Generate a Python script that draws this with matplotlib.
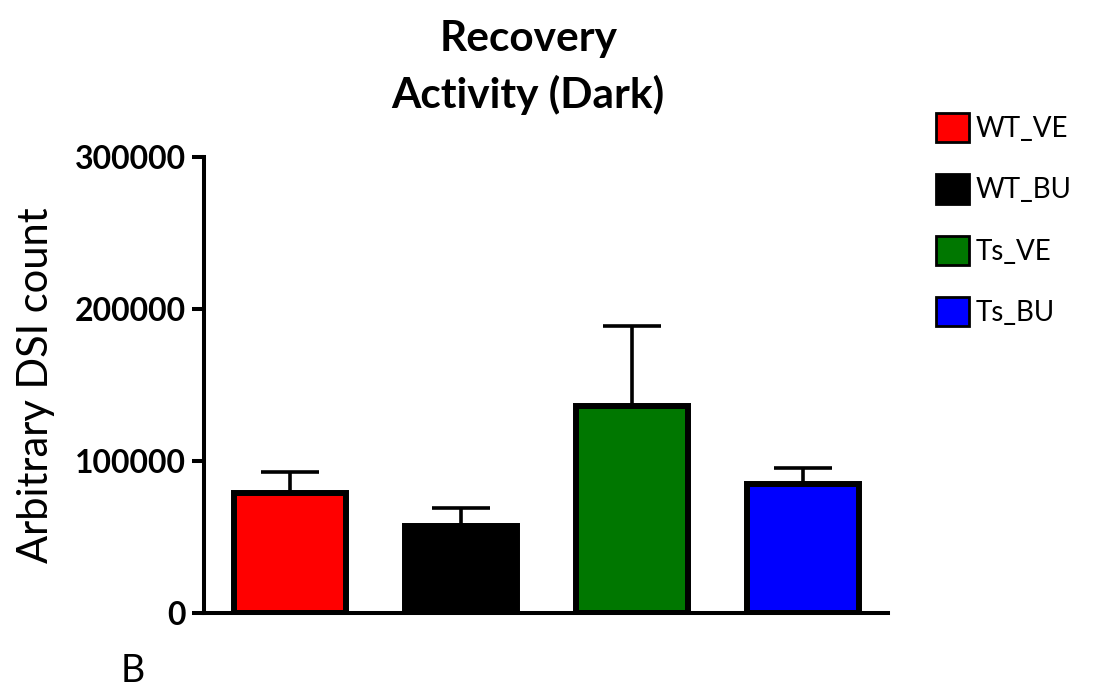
import matplotlib.pyplot as plt
from matplotlib.patches import Patch

# data
groups = ["WT_VE", "WT_BU", "Ts_VE", "Ts_BU"]
means = [78500, 57000, 136000, 84500]
sem = [14100, 12000, 52800, 10900]
colors = ["#ff0000", "#000000", "#007700", "#0000ff"]
yticks = [0, 100000, 200000, 300000]

plt.rcParams['font.family'] = ['Lato', 'DejaVu Sans']

fig = plt.figure(figsize=(10.94, 6.88), dpi=100)
ax = fig.add_axes([0.1865, 0.1094, 0.6252, 0.6628])

x = list(range(len(groups)))
ax.bar(x, means, width=0.655, color=colors, edgecolor='black', linewidth=4.3, zorder=2)
ax.errorbar(x, means, yerr=[[0] * len(sem), sem], fmt='none', ecolor='black',
            elinewidth=2.6, capsize=21, capthick=2.6, zorder=1)

ax.set_xlim(-0.5, 3.5)
ax.set_ylim(0, 300000)
ax.set_yticks(yticks)
ax.set_yticklabels([str(t) for t in yticks], fontsize=23, fontweight='bold')
ax.set_xticks([])
ax.tick_params(axis='y', length=9, width=2.9, direction='out', pad=4)

for s in ['top', 'right']:
    ax.spines[s].set_visible(False)
for s in ['left', 'bottom']:
    ax.spines[s].set_linewidth(2.9)

ax.set_ylabel("Arbitrary DSI count", fontsize=30, labelpad=14)
ax.set_title("Recovery\nActivity (Dark)", fontsize=30.5, fontweight='bold', pad=35,
             linespacing=1.5, x=0.474)

handles = [Patch(facecolor=c, edgecolor='black', linewidth=2) for c in colors]
fig.legend(handles, groups, loc='upper left', bbox_to_anchor=(0.845, 0.852),
           frameon=False, fontsize=20, handlelength=1.2, handleheight=1.25,
           handletextpad=0.25, labelspacing=1.15, borderaxespad=0)

fig.text(0.11, 0.008, "B", fontsize=27)

fig.savefig("out.png", dpi=100)
